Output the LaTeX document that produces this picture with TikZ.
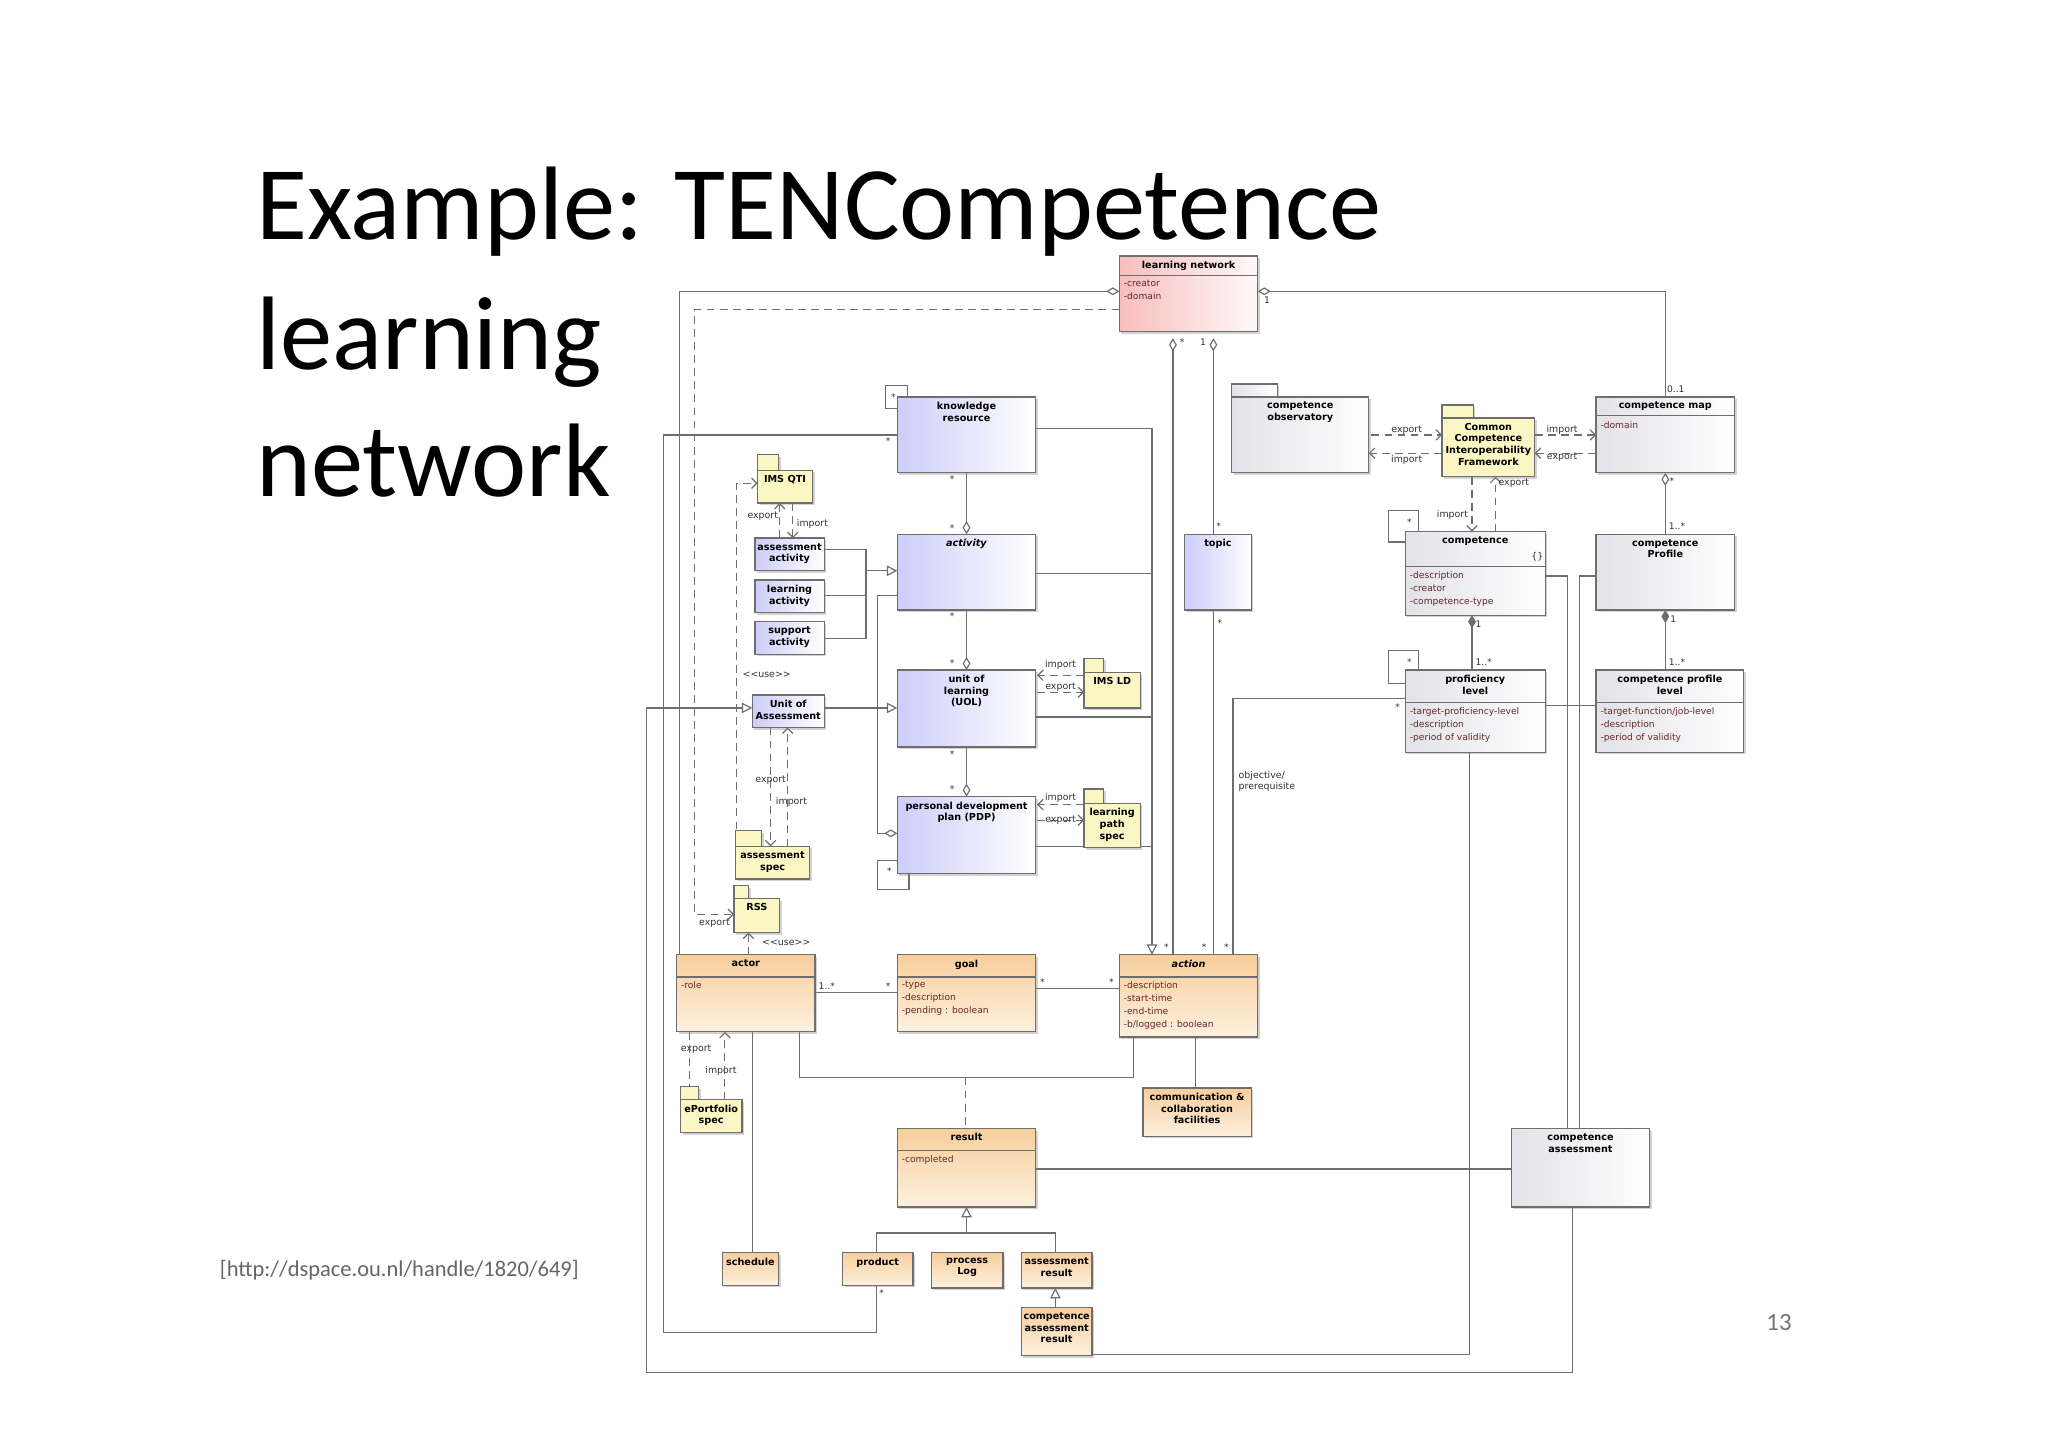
\documentclass[tikz,border=0pt]{standalone}
\usepackage{fontspec}
\setmainfont{Carlito}
\newfontfamily\djfont{DejaVu Sans}
\usetikzlibrary{arrows.meta,fit,calc,shadows}
\definecolor{bluec}{RGB}{205,205,250}
\definecolor{orc}{RGB}{248,206,156}
\definecolor{or2}{RGB}{253,240,222}
\definecolor{pinkc}{RGB}{248,190,190}
\definecolor{grayc}{RGB}{226,226,232}
\definecolor{yelc}{RGB}{250,247,196}
\definecolor{linec}{RGB}{110,110,110}
\definecolor{attrc}{RGB}{100,40,40}
\tikzset{
 bx/.style={draw=linec,line width=0.5pt,inner sep=0pt,drop shadow={shadow xshift=0.8pt,shadow yshift=-0.8pt,opacity=0.35}},
 blueb/.style={bx,left color=bluec,right color=white},
 orb/.style={bx,top color=orc,bottom color=or2},
 pinkb/.style={bx,left color=pinkc,right color=white!90!pinkc},
 grayb/.style={bx,left color=grayc,right color=white},
 yelb/.style={bx,fill=yelc},
 ttl/.style={font=\djfont\bfseries\fontsize{3.7}{4.5}\selectfont,align=center,inner sep=1pt},
 attr/.style={font=\djfont\fontsize{3.5}{5}\selectfont,align=left,inner sep=0.5pt,text=attrc,anchor=north west},
 ml/.style={font=\djfont\fontsize{3.5}{4}\selectfont,inner sep=0.5pt,text=black!80},
 lb/.style={font=\djfont\fontsize{3.6}{4.4}\selectfont,inner sep=0.5pt,text=black!80,align=left},
 cn/.style={draw=linec,line width=0.45pt},
 odia/.style={cn,{Diamond[open,length=5pt,width=3pt]}-},
 fdia/.style={cn,{Diamond[length=5pt,width=3pt]}-},
 gen/.style={cn,-{Triangle[open,length=4pt,width=4pt]}},
 dep/.style={cn,dash pattern=on 3pt off 2pt,-{Straight Barb[length=2pt,width=4pt]}},
 dl/.style={cn,dash pattern=on 3pt off 2pt},
}
\newcommand\cls[7]{\node[#6,fit={(#2,#3)(#4,#5)}] (#1) {};
 \node[ttl,anchor=north] at ($(#1.north)+(0,2)$) {#7};}
\newcommand\pkg[9]{\draw[#9] (#2,#3) rectangle (#2+#4,#5);
 \node[#9,fit={(#2,#5)(#6,#7)}] (#1) {};
 \node[ttl,anchor=north] at ($(#1.north)+(0,2)$) {#8};}
\begin{document}
\begin{tikzpicture}[x=0.5pt,y=-0.5pt]
\useasboundingbox[fill=white] (0,0) rectangle (1568,1107);
% title
\node[anchor=base west,inner sep=0,font=\fontsize{40}{48}\selectfont] (t1) at (196,183) {Example: TENCompetence};
\node[anchor=base west,inner sep=0,font=\fontsize{40}{48}\selectfont] (t2) at (196,283) {learning};
\node[anchor=base west,inner sep=0,font=\fontsize{40}{48}\selectfont] (t3) at (196,380) {network};
\node[anchor=base west,inner sep=0,font=\fontsize{8.6}{10}\selectfont,text=black!60] (cite) at (168,977) {[http://dspace.ou.nl/handle/1820/649]};
\node[anchor=base west,inner sep=0,font=\fontsize{9.5}{11}\selectfont,text=black!55] (pg) at (1352,1019) {13};

% ---------- connectors (drawn first) ----------
\draw[odia] (857,223) -- (520,223) -- (520,731);
\draw[dep] (857,237) -- (532,237) -- (532,700) -- (562,700);
\node[lb] (e1) at (547,707) {export};
\draw[dep] (564,645) -- (564,370) -- (580,370);
\node[lb] (u1) at (587,517) {<{}<use>{}>};
\draw[dep] (597,412) -- (597,385); \draw[dep] (607,385) -- (607,412);
\node[lb] (e2) at (584,395) {export}; \node[lb] (i2) at (622,401) {import};
\draw[cn] (631,421) -- (663,421) -- (663,489) -- (631,489); \draw[cn] (631,456) -- (663,456);
\draw[gen] (663,437) -- (687,437);
\draw[gen] (631,542) -- (687,542);
\draw[gen] (1204,923) -- (1204,1051) -- (495,1051) -- (495,542) -- (576,542);
\draw[dep] (590,557) -- (590,648); \draw[dep] (603,648) -- (603,557);
\node[lb] (e3) at (590,597) {export}; \node[lb] (i3) at (606,614) {import};
\draw[odia] (687,638) -- (672,638) -- (672,456) -- (687,456);
\draw[odia] (740,409) -- (740,362); \node[ml] at (729,367) {*}; \node[ml] at (729,404) {*};
\draw[odia] (740,513) -- (740,467); \node[ml] at (729,472) {*}; \node[ml] at (729,508) {*};
\draw[odia] (740,610) -- (740,572); \node[ml] at (729,577) {*}; \node[ml] at (729,604) {*};
\draw[cn] (687,313) -- (678,313) -- (678,295) -- (695,295) -- (695,304); \node[ml] at (684,304) {*};
\draw[cn] (687,659) -- (672,659) -- (672,681) -- (696,681) -- (696,669); \node[ml] at (681,667) {*};
\draw[gen] (793,328) -- (882,328) -- (882,731);
\draw[cn] (793,439) -- (882,439); \draw[cn] (793,549) -- (882,549); \draw[cn] (793,648) -- (882,648);
\draw[cn] (687,333) -- (508,333) -- (508,1020) -- (671,1020) -- (671,984); \node[ml] at (680,338) {*}; \node[ml] at (675,990) {*};
\draw[odia] (898,259) -- (898,731); \node[ml] at (905,262) {*}; \node[ml] at (893,725) {*};
\draw[odia] (929,259) -- (929,409); \node[ml] at (921,262) {1}; \node[ml] at (933,403) {*};
\draw[cn] (929,467) -- (929,731); \node[ml] at (934,477) {*}; \node[ml] at (922,725) {*};
\draw[odia] (963,223) -- (1275,223) -- (1275,304); \node[ml] at (970,230) {1}; \node[ml] at (1283,298) {0..1};
\draw[cn] (1076,535) -- (944,535) -- (944,731); \node[ml] at (1070,541) {*}; \node[ml] at (939,725) {*};
\node[lb,anchor=north west] (op) at (947,589) {objective/\\prerequisite};
\draw[dep] (1050,333) -- (1104,333); \draw[dep] (1104,347) -- (1048,347);
\node[lb] at (1077,329) {export}; \node[lb] at (1077,352) {import};
\draw[dep] (1175,333) -- (1222,333); \draw[dep] (1222,347) -- (1175,347);
\node[lb] at (1196,329) {import}; \node[lb] at (1196,350) {export};
\draw[dep] (1127,365) -- (1127,407); \draw[dep] (1145,407) -- (1145,365);
\node[lb] at (1112,394) {import}; \node[lb] at (1159,370) {export};
\draw[odia] (1275,362) -- (1275,409); \node[ml] at (1280,368) {*}; \node[ml] at (1284,403) {1..*};
\draw[fdia] (1127,471) -- (1127,513); \node[ml] at (1132,478) {1}; \node[ml] at (1136,507) {1..*};
\draw[fdia] (1275,467) -- (1275,513); \node[ml] at (1281,474) {1}; \node[ml] at (1284,507) {1..*};
\draw[cn] (1076,415) -- (1063,415) -- (1063,391) -- (1086,391) -- (1086,407); \node[ml] at (1079,400) {*};
\draw[cn] (1076,523) -- (1063,523) -- (1063,498) -- (1086,498) -- (1086,513); \node[ml] at (1079,507) {*};
\draw[cn] (1183,441) -- (1200,441) -- (1200,864);
\draw[cn] (1222,441) -- (1209,441) -- (1209,864);
\draw[cn] (1125,576) -- (1125,1037) -- (836,1037);
\draw[cn] (1183,540) -- (1222,540);
\draw[cn] (624,760) -- (687,760); \node[ml] at (633,755) {1..*}; \node[ml] at (680,755) {*};
\draw[cn] (793,757) -- (857,757); \node[ml] at (798,752) {*}; \node[ml] at (851,752) {*};
\draw[cn] (612,790) -- (612,825) -- (868,825) -- (868,794);
\draw[dl] (739,825) -- (739,864);
\draw[cn] (915,794) -- (915,833);
\draw[cn] (576,790) -- (576,959);
\draw[dep] (528,790) -- (528,842); \draw[dep] (555,842) -- (555,790);
\node[lb] at (533,803) {export}; \node[lb] at (552,820) {import};
\draw[dep] (573,731) -- (573,714); \node[lb] at (602,722) {<{}<use>{}>};
\draw[cn] (793,895) -- (1157,895);
\draw[gen] (740,944) -- (740,924); \draw[cn] (671,959) -- (671,944) -- (808,944) -- (808,959);
\draw[gen] (808,1001) -- (808,986);
\draw[dep] (830,517) -- (794,517); \draw[dep] (794,530) -- (830,530);
\node[lb] at (812,509) {import}; \node[lb] at (812,526) {export};
\draw[dep] (830,616) -- (794,616); \draw[dep] (794,628) -- (830,628);
\node[lb] at (812,611) {import}; \node[lb] at (812,628) {export};

% ---------- classes ----------
\cls{ln}{857}{196}{963}{254}{pinkb}{learning network}
\draw[cn] (857,211) -- (963,211); \node[attr] at (859,213) {-creator\\-domain};
\cls{kr}{687}{304}{793}{362}{blueb}{knowledge\\resource}
\cls{act}{687}{409}{793}{467}{blueb}{\textit{activity}}
\cls{uol}{687}{513}{793}{572}{blueb}{unit of\\learning\\(UOL)}
\cls{pdp}{687}{610}{793}{669}{blueb}{personal development\\plan (PDP)}
\cls{topic}{907}{409}{958}{467}{blueb}{topic}
\cls{aa}{578}{412}{631}{437}{blueb}{assessment\\activity}
\cls{la}{578}{444}{631}{469}{blueb}{learning\\activity}
\cls{sa}{578}{476}{631}{501}{blueb}{support\\activity}
\cls{uoa}{576}{532}{631}{557}{blueb}{Unit of\\Assessment}
\pkg{qti}{580}{348}{16}{360}{622}{385}{IMS QTI}{yelb}
\pkg{aspec}{563}{636}{20}{648}{620}{673}{assessment\\spec}{yelb}
\pkg{rss}{562}{678}{11}{688}{597}{714}{RSS}{yelb}
\pkg{imsld}{830}{504}{15}{515}{873}{542}{IMS LD}{yelb}
\pkg{lps}{830}{604}{15}{615}{873}{649}{learning\\path\\spec}{yelb}
\pkg{ep}{521}{832}{14}{842}{568}{867}{ePortfolio\\spec}{yelb}
\pkg{co}{943}{294}{35}{304}{1048}{362}{competence\\observatory}{grayb}
\pkg{ccif}{1104}{310}{24}{320}{1175}{365}{Common\\Competence\\Interoperability\\Framework}{yelb}
\cls{cmap}{1222}{304}{1328}{362}{grayb}{competence map}
\draw[cn] (1222,318) -- (1328,318); \node[attr] at (1224,321) {-domain};
\cls{comp}{1076}{407}{1183}{471}{grayb}{competence}
\node[lb] at (1177,426) {\{\}};
\draw[cn] (1076,434) -- (1183,434); \node[attr] at (1078,436) {-description\\-creator\\-competence-type};
\cls{cprof}{1222}{409}{1328}{467}{grayb}{competence\\Profile}
\cls{prof}{1076}{513}{1183}{576}{grayb}{proficiency\\level}
\draw[cn] (1076,538) -- (1183,538); \node[attr] at (1078,540) {-target-proficiency-level\\-description\\-period of validity};
\cls{cpl}{1222}{513}{1335}{576}{grayb}{competence profile\\level}
\draw[cn] (1222,538) -- (1335,538); \node[attr] at (1224,540) {-target-function/job-level\\-description\\-period of validity};
\cls{actor}{518}{731}{624}{790}{orb}{actor}
\draw[cn] (518,748) -- (624,748); \node[attr] at (520,750) {-role};
\cls{goal}{687}{731}{793}{790}{orb}{goal}
\draw[cn] (687,748) -- (793,748); \node[attr] at (689,750) {-type\\-description\\-pending : boolean};
\cls{action}{857}{731}{963}{794}{orb}{\textit{action}}
\draw[cn] (857,748) -- (963,748); \node[attr] at (859,750) {-description\\-start-time\\-end-time\\-b/logged : boolean};
\cls{comm}{875}{833}{958}{870}{orb}{communication \&\\collaboration\\facilities}
\cls{result}{687}{864}{793}{924}{orb}{result}
\draw[cn] (687,881) -- (793,881); \node[attr] at (689,883) {-completed};
\cls{ca}{1157}{864}{1263}{924}{grayb}{competence\\assessment}
\cls{sched}{553}{959}{596}{984}{orb}{schedule}
\cls{prod}{645}{959}{699}{984}{orb}{product}
\cls{plog}{713}{959}{768}{986}{orb}{process\\Log}
\cls{ares}{782}{959}{836}{986}{orb}{assessment\\result}
\cls{car}{782}{1001}{836}{1038}{orb}{competence\\assessment\\result}
\end{tikzpicture}
\end{document}
